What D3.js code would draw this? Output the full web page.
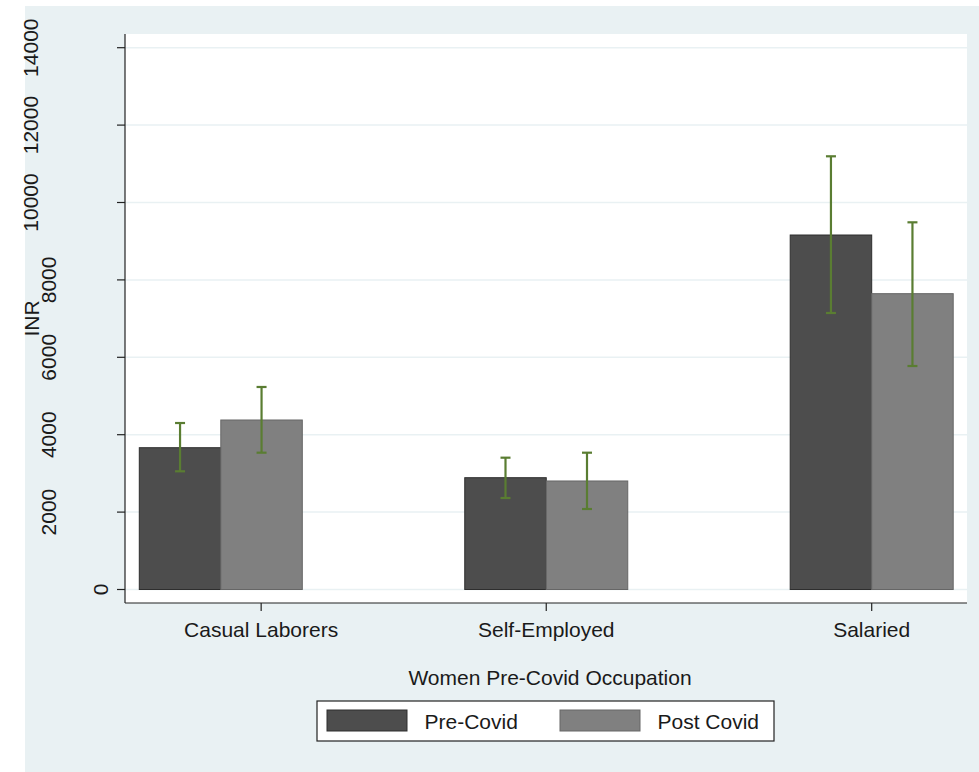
<!DOCTYPE html>
<html><head><meta charset="utf-8">
<script src="https://cdn.jsdelivr.net/npm/d3@7"></script>
<style>
html,body{margin:0;padding:0;background:#fff;}
text{font-family:"Liberation Sans",Arial,Helvetica,sans-serif;fill:#1a1a1a;}
</style></head>
<body>
<svg id="chart" width="979" height="772"></svg>
<script>
const categories = ["Casual Laborers", "Self-Employed", "Salaried"];
const seriesNames = ["Pre-Covid", "Post Covid"];
const preCovid = [3664, 2889, 9160];
const postCovid = [4380, 2804, 7644];
const preLow = [3054, 2364, 7145];
const preHigh = [4302, 3406, 11194];
const postLow = [3535, 2080, 5775];
const postHigh = [5233, 3535, 9488];
const yTicks = [0, 2000, 4000, 6000, 8000, 10000, 12000, 14000];

const svg = d3.select("#chart");
const bg = "#E9F1F3";
const plotL = 125, plotR = 967, plotT = 34, plotB = 603;
const fs = 21;

svg.append("rect").attr("x", 25).attr("y", 6).attr("width", 954).attr("height", 766).attr("fill", bg);
svg.append("rect").attr("x", plotL).attr("y", plotT).attr("width", plotR - plotL).attr("height", plotB - plotT).attr("fill", "#fff");

const y = d3.scaleLinear().domain([0, 14000]).range([589.5, 47.7]);
// group positions 1..3 on a linear scale
const xl = d3.scaleLinear().domain([1, 3]).range([plotL + 95.8, plotR - 95.3]);
const x = d => xl(categories.indexOf(d) + 1);
// axis tick/label positions (Stata places the first label off-centre)
const tickPos = [1.124, 2, 3];
const bw = 81.5;

// gridlines
svg.append("g").selectAll("line").data(yTicks).join("line")
  .attr("x1", plotL).attr("x2", plotR)
  .attr("y1", d => y(d)).attr("y2", d => y(d))
  .attr("stroke", bg).attr("stroke-width", 1.5);

const series = [
  {name: seriesNames[0], vals: preCovid, lo: preLow, hi: preHigh, fill: "#4D4D4D", stroke: "#2e2e2e", off: -1},
  {name: seriesNames[1], vals: postCovid, lo: postLow, hi: postHigh, fill: "#808080", stroke: "#666", off: 0}
];

series.forEach(s => {
  svg.append("g").selectAll("rect").data(categories).join("rect")
    .attr("x", d => x(d) + s.off * bw)
    .attr("y", (d, i) => y(s.vals[i]))
    .attr("width", bw)
    .attr("height", (d, i) => y(0) - y(s.vals[i]))
    .attr("fill", s.fill).attr("stroke", s.stroke).attr("stroke-width", 1);
});

const ebColor = "#5A7D32";
series.forEach(s => {
  const g = svg.append("g").attr("stroke", ebColor).attr("stroke-width", 2.2);
  categories.forEach((c, i) => {
    const cx = x(c) + s.off * bw + bw / 2;
    g.append("line").attr("x1", cx).attr("x2", cx).attr("y1", y(s.lo[i])).attr("y2", y(s.hi[i]));
    g.append("line").attr("x1", cx - 5).attr("x2", cx + 5).attr("y1", y(s.lo[i])).attr("y2", y(s.lo[i]));
    g.append("line").attr("x1", cx - 5).attr("x2", cx + 5).attr("y1", y(s.hi[i])).attr("y2", y(s.hi[i]));
  });
});

// y axis
svg.append("line").attr("x1", plotL).attr("x2", plotL).attr("y1", plotT).attr("y2", plotB).attr("stroke", "#222").attr("stroke-width", 1.2);
svg.append("g").selectAll("line").data(yTicks).join("line")
  .attr("x1", 117).attr("x2", plotL).attr("y1", d => y(d)).attr("y2", d => y(d))
  .attr("stroke", "#222").attr("stroke-width", 1.2);
svg.append("g").selectAll("text").data(yTicks).join("text")
  .attr("transform", d => {
    const s = String(d);
    const cx = 118 - 17.5 * s.length;
    return `translate(${cx},${y(d)}) rotate(-90)`;
  })
  .attr("dy", "0.36em").attr("text-anchor", "middle").attr("font-size", fs)
  .text(d => String(d));
svg.append("text").attr("transform", `translate(31,318.5) rotate(-90)`)
  .attr("dy", "0.36em").attr("text-anchor", "middle").attr("font-size", fs).text("INR");

// x axis
svg.append("line").attr("x1", plotL).attr("x2", plotR).attr("y1", plotB).attr("y2", plotB).attr("stroke", "#222").attr("stroke-width", 1.2);
svg.append("g").selectAll("line").data(categories).join("line")
  .attr("x1", (d, i) => xl(tickPos[i])).attr("x2", (d, i) => xl(tickPos[i])).attr("y1", plotB).attr("y2", 611)
  .attr("stroke", "#222").attr("stroke-width", 1.2);
svg.append("g").selectAll("text").data(categories).join("text")
  .attr("x", (d, i) => xl(tickPos[i])).attr("y", 637).attr("text-anchor", "middle").attr("font-size", fs).text(d => d);
svg.append("text").attr("x", 550).attr("y", 685).attr("text-anchor", "middle").attr("font-size", fs).text("Women Pre-Covid Occupation");

// legend
svg.append("rect").attr("x", 317).attr("y", 701).attr("width", 457).attr("height", 40)
  .attr("fill", "#fff").attr("stroke", "#222").attr("stroke-width", 1.2);
const legX = [327, 560];
series.forEach((s, i) => {
  svg.append("rect").attr("x", legX[i]).attr("y", 710).attr("width", 80).attr("height", 21)
    .attr("fill", s.fill).attr("stroke", s.stroke).attr("stroke-width", 1);
  svg.append("text").attr("x", legX[i] + 97.5).attr("y", 728.5).attr("font-size", fs).text(s.name);
});
</script>
</body></html>
